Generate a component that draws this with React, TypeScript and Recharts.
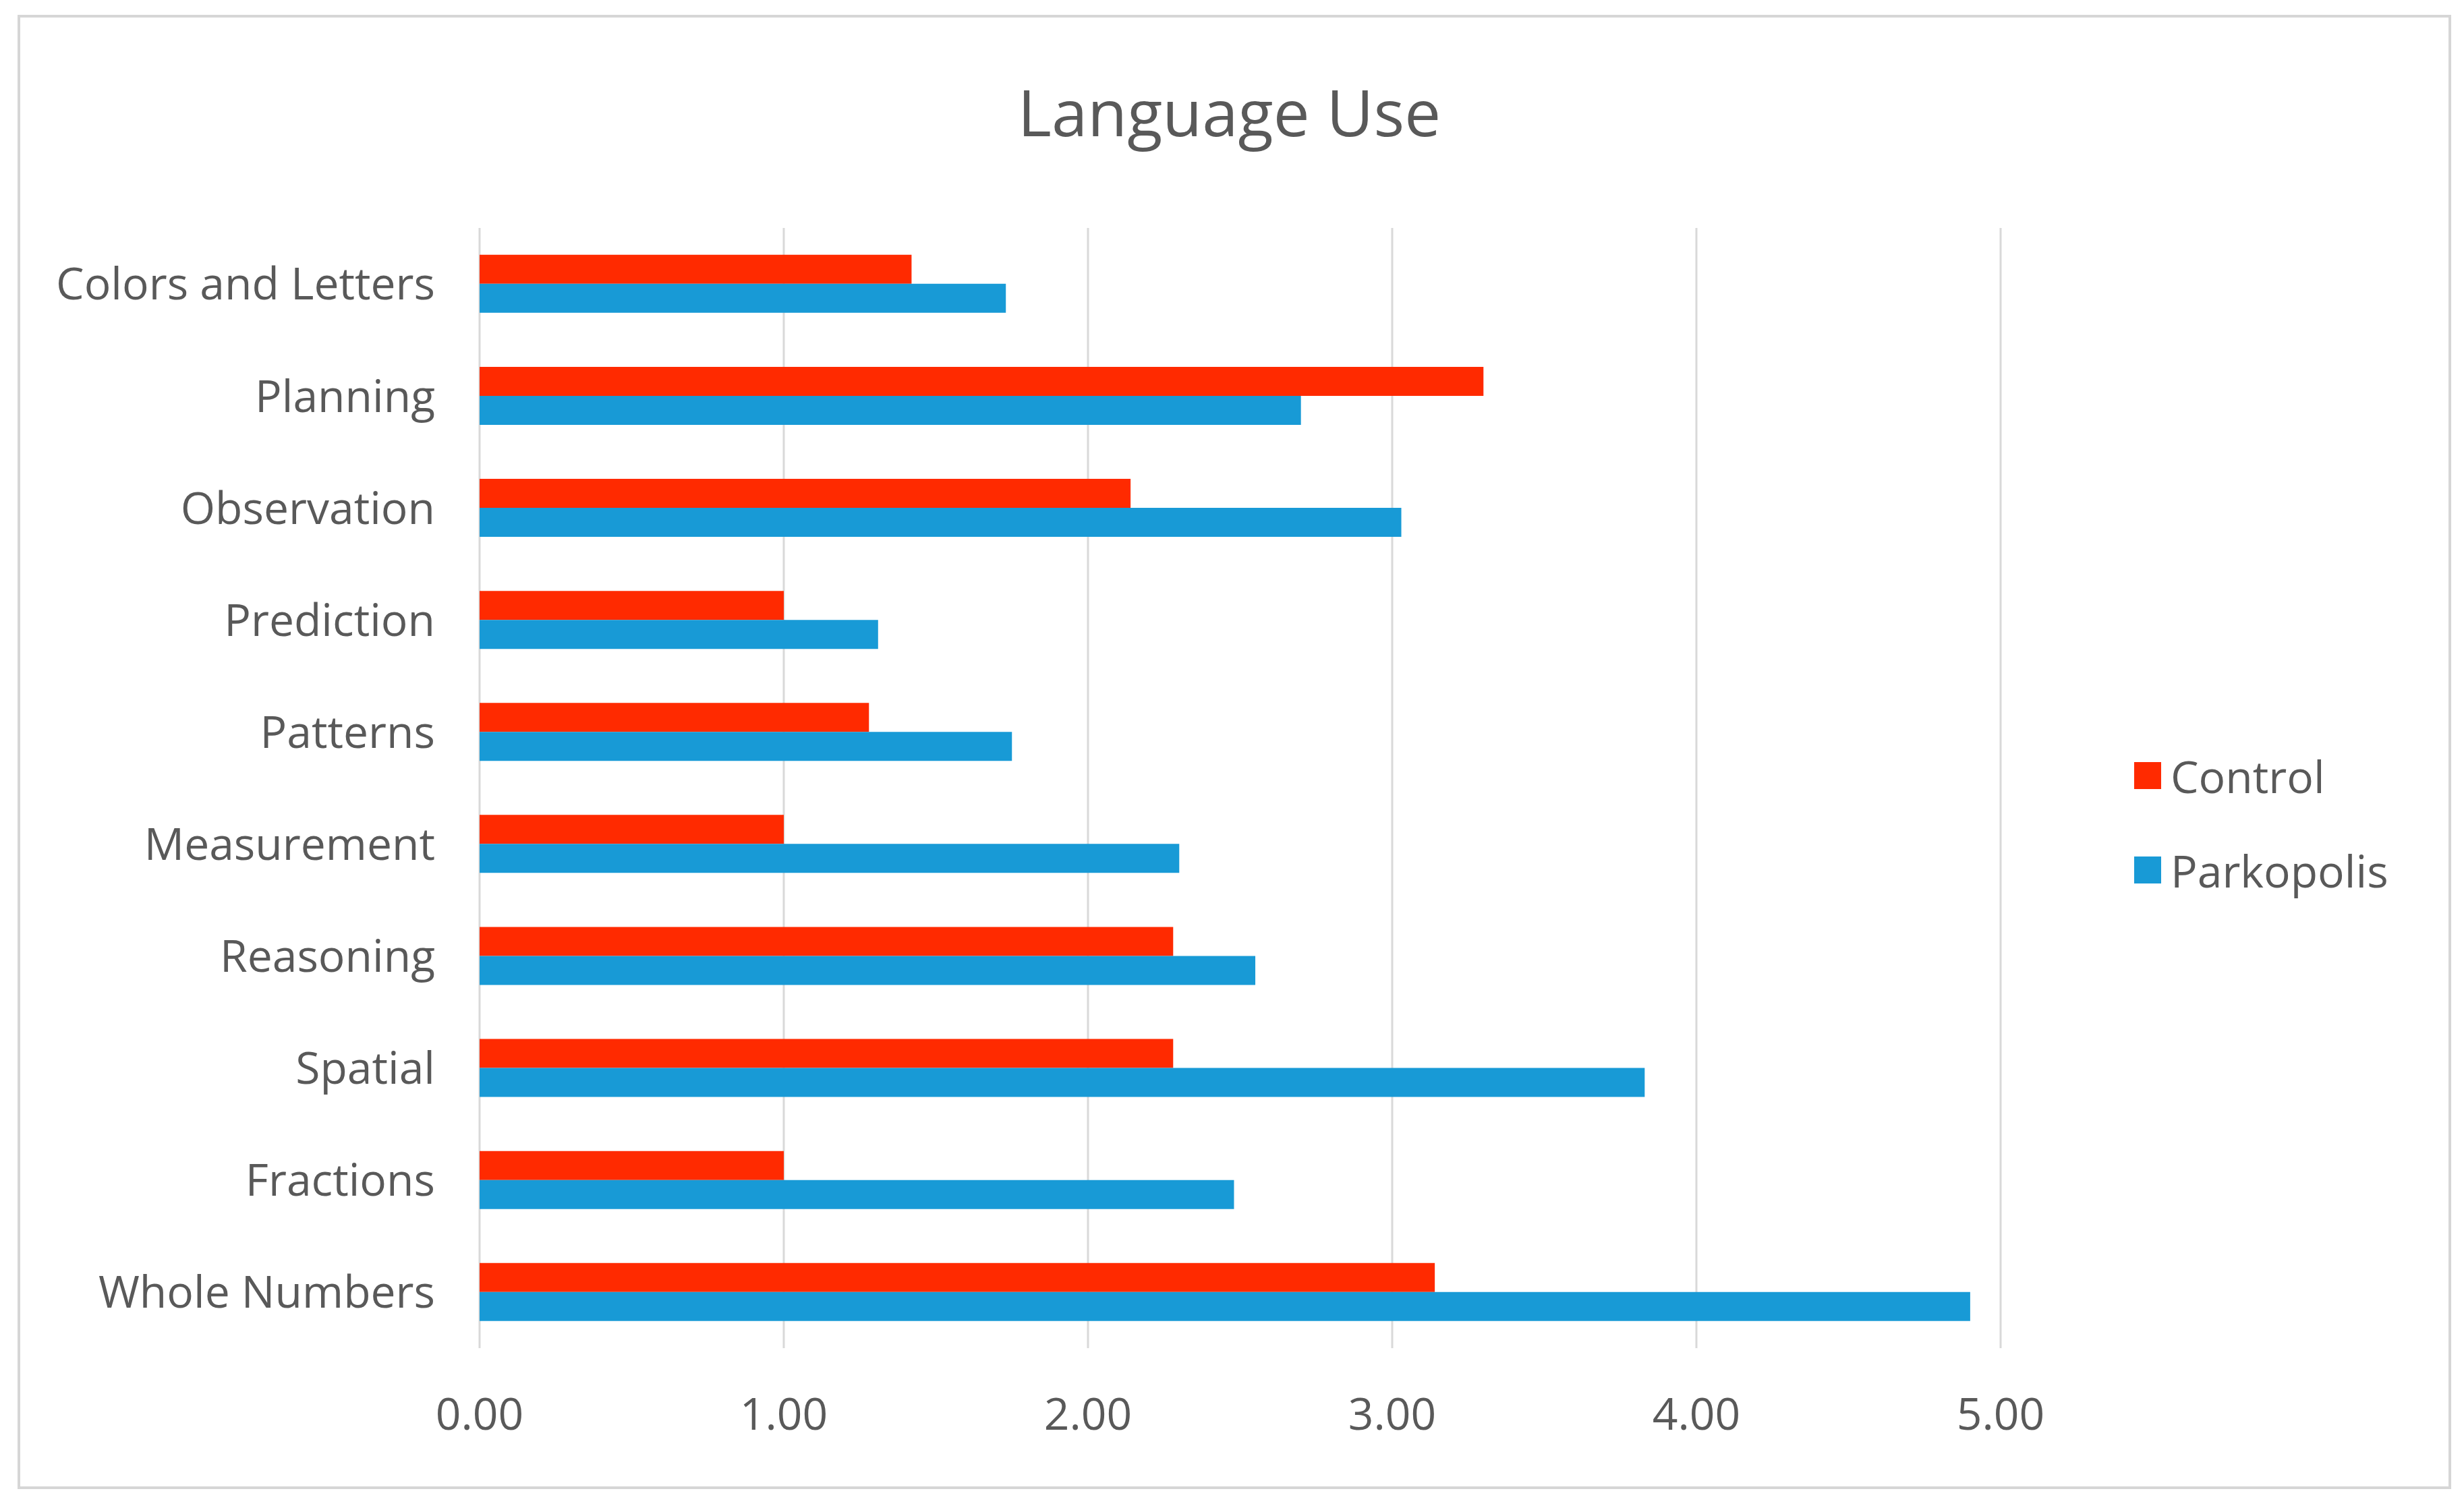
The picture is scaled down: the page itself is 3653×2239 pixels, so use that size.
import React from 'react'
import { BarChart, Bar, XAxis, YAxis, CartesianGrid } from 'recharts'

const CATEGORIES = [
  'Colors and Letters',
  'Planning',
  'Observation',
  'Prediction',
  'Patterns',
  'Measurement',
  'Reasoning',
  'Spatial',
  'Fractions',
  'Whole Numbers',
]

const CONTROL = [1.42, 3.3, 2.14, 1.0, 1.28, 1.0, 2.28, 2.28, 1.0, 3.14]
const PARKOPOLIS = [1.73, 2.7, 3.03, 1.31, 1.75, 2.3, 2.55, 3.83, 2.48, 4.9]

const X_TICKS = [0, 1, 2, 3, 4, 5]

const SERIES = [
  { key: 'control', name: 'Control', color: '#ff2a00' },
  { key: 'parkopolis', name: 'Parkopolis', color: '#189ad6' },
]

const FONT = '"Open Sans", "Noto Sans", sans-serif'
const TEXT = '#595959'
const GRID = '#d9d9d9'

const data = CATEGORIES.map((cat, i) => ({
  category: cat,
  control: CONTROL[i],
  parkopolis: PARKOPOLIS[i],
}))

export default function App() {
  return (
    <div
      style={{
        position: 'absolute',
        left: 0,
        top: 0,
        width: 3653,
        height: 2239,
        background: '#fff',
        fontFamily: FONT,
        overflow: 'hidden',
      }}
    >
      {/* frame */}
      <div
        style={{
          position: 'absolute',
          left: 26,
          top: 22,
          width: 3600,
          height: 2178,
          border: '4px solid #d6d6d6',
        }}
      />

      <div
        style={{
          position: 'absolute',
          left: 0,
          width: 3653,
          top: 117,
          textAlign: 'center',
          fontSize: 96,
          lineHeight: '96px',
          color: TEXT,
          paddingLeft: 0,
        }}
      >
        <span style={{ position: 'relative', left: -4 }}>Language Use</span>
      </div>

      <div style={{ position: 'absolute', left: 0, top: 0 }}>
        <BarChart
          width={3653}
          height={2239}
          data={data}
          layout="vertical"
          margin={{ top: 338, right: 687, bottom: 0, left: 0 }}
          barCategoryGap="24%"
          barGap={0}
        >
          <CartesianGrid horizontal={false} stroke={GRID} strokeWidth={3} />
          <XAxis
            type="number"
            domain={[0, 5]}
            ticks={X_TICKS}
            height={240}
            axisLine={false}
            tickLine={false}
            tickSize={0}
            tickMargin={74}
            tickFormatter={(v: number) => v.toFixed(2)}
            tick={{ fill: TEXT, fontSize: 66, fontFamily: FONT }}
          />
          <YAxis
            type="category"
            dataKey="category"
            width={711}
            axisLine={false}
            tickLine={false}
            tickSize={0}
            tickMargin={66}
            interval={0}
            tick={{ fill: TEXT, fontSize: 66, fontFamily: FONT }}
          />
          {SERIES.map((s) => (
            <Bar key={s.key} dataKey={s.key} name={s.name} fill={s.color} isAnimationActive={false} />
          ))}
        </BarChart>
      </div>

      {/* legend */}
      {SERIES.map((s, i) => (
        <div
          key={s.key}
          style={{
            position: 'absolute',
            left: 3164,
            top: 1110 + i * 140,
            height: 80,
            display: 'flex',
            alignItems: 'center',
            fontSize: 66,
            color: TEXT,
            whiteSpace: 'nowrap',
          }}
        >
          <span style={{ display: 'inline-block', width: 40, height: 40, background: s.color, marginRight: 14 }} />
          <span>{s.name}</span>
        </div>
      ))}
    </div>
  )
}
